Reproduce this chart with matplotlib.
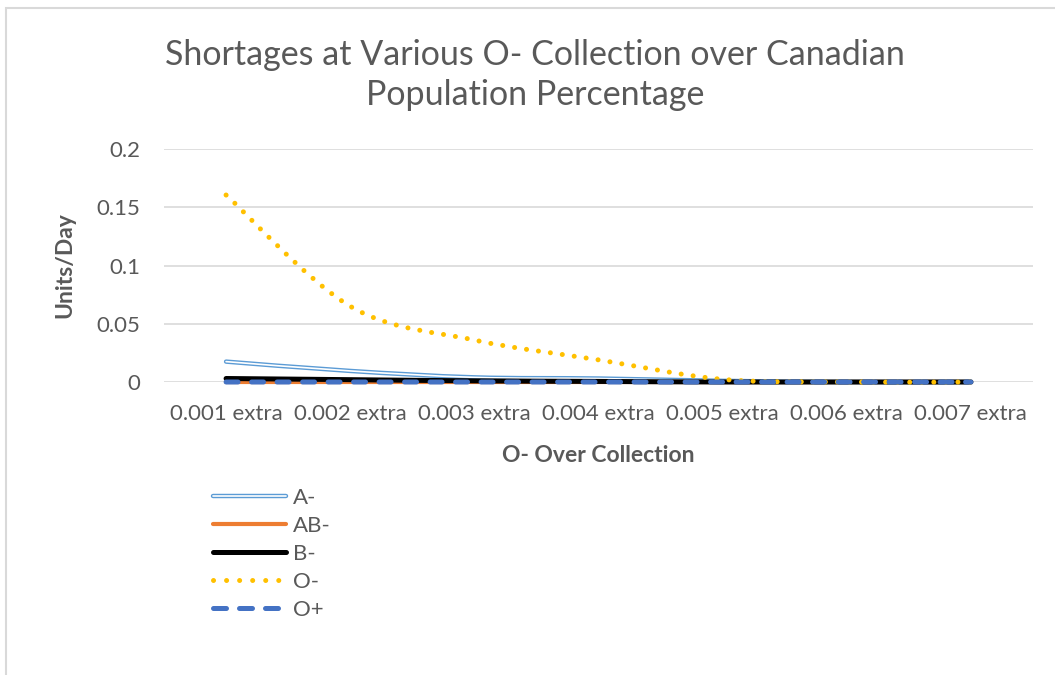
import matplotlib.pyplot as plt
import numpy as np
from matplotlib.path import Path
from matplotlib.patches import PathPatch, Rectangle
from matplotlib.lines import Line2D

plt.rcParams['font.family'] = ['Lato', 'DejaVu Sans']

# shortage per blood type at each O- over collection level
categories = ["0.001 extra", "0.002 extra", "0.003 extra", "0.004 extra",
              "0.005 extra", "0.006 extra", "0.007 extra"]
a_neg = [0.0175, 0.0095, 0.004, 0.003, 0.001, 0.0, 0.0]
ab_neg = [0.0, 0.0, 0.0, 0.0, 0.0, 0.0, 0.0]
b_neg = [0.003, 0.002, 0.001, 0.0005, 0.0, 0.0, 0.0]
o_neg = [0.1605, 0.065, 0.036, 0.019, 0.0023, 0.0, 0.0]
o_pos = [0.0, 0.0, 0.0, 0.0, 0.0, 0.0, 0.0]

grey = "#595959"


def smooth_path(xs, ys):
    # bezier segments through each point, like a spreadsheet "smoothed line"
    pts = np.column_stack([xs, ys]).astype(float)
    n = len(pts)
    verts = [pts[0]]
    codes = [Path.MOVETO]
    for i in range(n - 1):
        p0 = pts[max(i - 1, 0)]
        p1 = pts[i]
        p2 = pts[i + 1]
        p3 = pts[min(i + 2, n - 1)]
        c1 = p1 + (p2 - p0) / 6.0
        c2 = p2 - (p3 - p1) / 6.0
        verts += [c1, c2, p2]
        codes += [Path.CURVE4] * 3
    return Path(verts, codes)


def add_line(ax, ys, **kw):
    x = np.arange(len(ys))
    patch = PathPatch(smooth_path(x, ys), fill=False, clip_on=False, **kw)
    ax.add_patch(patch)
    return patch


fig = plt.figure(figsize=(10.55, 6.75), dpi=100)
fig.patches.append(Rectangle((6 / 1055, -0.1), 1.2, (1 - 8 / 675) + 0.1,
                             transform=fig.transFigure, fill=False,
                             edgecolor="#d9d9d9", linewidth=1.5))

ax = fig.add_axes([164 / 1055, 1 - 382 / 675, (1033 - 164) / 1055, (382 - 149) / 675])
ax.set_xlim(-0.5, 6.5)
ax.set_ylim(0, 0.2)
ax.set_yticks([0, 0.05, 0.1, 0.15, 0.2])
ax.set_yticklabels(["0", "0.05", "0.1", "0.15", "0.2"])
ax.set_xticks(range(len(categories)))
ax.set_xticklabels(categories)
ax.tick_params(length=0, labelsize=16, colors=grey)
ax.tick_params(axis="x", pad=16)
ax.tick_params(axis="y", pad=17)
for s in ax.spines.values():
    s.set_visible(False)
ax.grid(axis="y", color="#d9d9d9", linewidth=1.2)
ax.set_axisbelow(True)

# A- drawn as a double line: blue outline, white core
add_line(ax, a_neg, edgecolor="#5b9bd5", linewidth=3.2, capstyle="round", zorder=3)
add_line(ax, a_neg, edgecolor="white", linewidth=1.2, capstyle="round", zorder=3.1)
add_line(ax, ab_neg, edgecolor="#ed7d31", linewidth=3.0, capstyle="round", zorder=3.2)
add_line(ax, b_neg, edgecolor="black", linewidth=3.6, capstyle="round", zorder=3.3)
add_line(ax, o_neg, edgecolor="#ffc000", linewidth=3.6, capstyle="round",
         linestyle=(0, (0.01, 2.4)), zorder=3.4)
add_line(ax, o_pos, edgecolor="#4472c4", linewidth=3.6, capstyle="round",
         linestyle=(0, (2.4, 2.7)), zorder=3.5)

ax.set_xlabel("O- Over Collection", fontsize=16.5, fontweight="bold", color=grey, labelpad=15)
ax.set_ylabel("Units/Day", fontsize=16.5, fontweight="bold", color=grey, labelpad=15)

fig.text(535 / 1055, 1 - 75 / 675,
         "Shortages at Various O- Collection over Canadian\nPopulation Percentage",
         ha="center", va="center", fontsize=24.5, color=grey, linespacing=1.3)

h_a = (Line2D([], [], color="#5b9bd5", lw=3.2, solid_capstyle="round"),
       Line2D([], [], color="white", lw=1.2, solid_capstyle="round"))
h_ab = Line2D([], [], color="#ed7d31", lw=3.0, solid_capstyle="round")
h_b = Line2D([], [], color="black", lw=3.6, solid_capstyle="round")
h_on = Line2D([], [], color="#ffc000", lw=3.6, linestyle=(0, (0.01, 2.6)),
              dash_capstyle="round")
h_op = Line2D([], [], color="#4472c4", lw=3.6, linestyle=(0, (2.6, 2.6)),
              dash_capstyle="round")
leg = fig.legend([h_a, h_ab, h_b, h_on, h_op], ["A-", "AB-", "B-", "O-", "O+"],
                 loc="upper left", bbox_to_anchor=(202 / 1055, 1 - 477 / 675),
                 frameon=False, fontsize=16, handlelength=3.3, handletextpad=0.3,
                 labelspacing=0.36, borderpad=0)
for t in leg.get_texts():
    t.set_color(grey)

fig.savefig("out.png", dpi=100)
